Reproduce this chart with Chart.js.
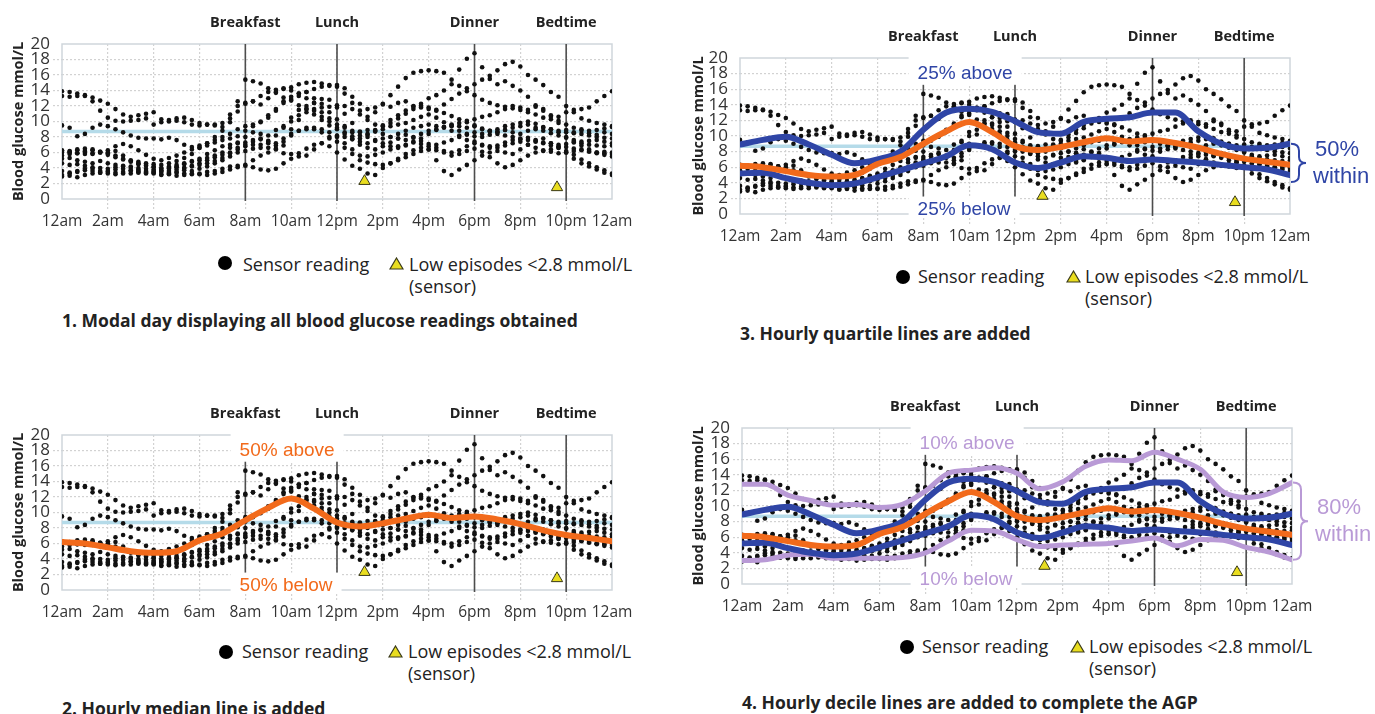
<!DOCTYPE html>
<html>
<head>
<meta charset="utf-8">
<script src="https://cdn.jsdelivr.net/npm/chart.js@4.4.1/dist/chart.umd.min.js"></script>
<style>
  body{margin:0;background:#fff;width:1375px;height:714px;overflow:hidden;position:relative;font-family:"Open Sans",sans-serif;color:#222}
  canvas{position:absolute}
  .t{position:absolute;white-space:nowrap;line-height:1;font-size:18px}
  .ttl{position:absolute;white-space:nowrap;line-height:1;font-size:17.5px;font-weight:bold}
  .dot{position:absolute;width:14px;height:14px;border-radius:50%;background:#000}
  .tri{position:absolute;width:15px;height:13px}
</style>
</head>
<body>
<canvas id="c1" width="660" height="240" style="left:0;top:0"></canvas>
<canvas id="c2" width="660" height="240" style="left:0;top:390px"></canvas>
<canvas id="c3" width="695" height="250" style="left:680px;top:0"></canvas>
<canvas id="c4" width="695" height="250" style="left:680px;top:380px"></canvas>

<!-- legends + captions -->
<div class="dot" style="left:218px;top:256px"></div>
<div class="t" style="left:243px;top:255px">Sensor reading</div>
<svg class="tri" style="left:389px;top:257px" viewBox="0 0 15 13"><polygon points="7.5,1 14,12 1,12" fill="#e9dd1f" stroke="#3a3a1a" stroke-width="1.2"/></svg>
<div class="t" style="left:409px;top:255px">Low episodes &lt;2.8 mmol/L</div>
<div class="t" style="left:409px;top:277px">(sensor)</div>
<div class="ttl" style="left:62px;top:312px">1. Modal day displaying all blood glucose readings obtained</div>

<div class="dot" style="left:219px;top:645px"></div>
<div class="t" style="left:242px;top:642px">Sensor reading</div>
<svg class="tri" style="left:388px;top:645px" viewBox="0 0 15 13"><polygon points="7.5,1 14,12 1,12" fill="#e9dd1f" stroke="#3a3a1a" stroke-width="1.2"/></svg>
<div class="t" style="left:408px;top:642px">Low episodes &lt;2.8 mmol/L</div>
<div class="t" style="left:408px;top:664px">(sensor)</div>
<div class="ttl" style="left:62px;top:700px">2. Hourly median line is added</div>

<div class="dot" style="left:896px;top:270px"></div>
<div class="t" style="left:918px;top:267px">Sensor reading</div>
<svg class="tri" style="left:1066px;top:270px" viewBox="0 0 15 13"><polygon points="7.5,1 14,12 1,12" fill="#e9dd1f" stroke="#3a3a1a" stroke-width="1.2"/></svg>
<div class="t" style="left:1085px;top:267px">Low episodes &lt;2.8 mmol/L</div>
<div class="t" style="left:1085px;top:289px">(sensor)</div>
<div class="ttl" style="left:740px;top:325px">3. Hourly quartile lines are added</div>

<div class="dot" style="left:900px;top:640px"></div>
<div class="t" style="left:922px;top:637px">Sensor reading</div>
<svg class="tri" style="left:1070px;top:640px" viewBox="0 0 15 13"><polygon points="7.5,1 14,12 1,12" fill="#e9dd1f" stroke="#3a3a1a" stroke-width="1.2"/></svg>
<div class="t" style="left:1089px;top:637px">Low episodes &lt;2.8 mmol/L</div>
<div class="t" style="left:1089px;top:659px">(sensor)</div>
<div class="ttl" style="left:742px;top:694px">4. Hourly decile lines are added to complete the AGP</div>

<script>
// axis text
const hourLabels = ['12am','2am','4am','6am','8am','10am','12pm','2pm','4pm','6pm','8pm','10pm','12am'];
const mealHours = [8, 12, 18, 22];
const mealNames = ['Breakfast', 'Lunch', 'Dinner', 'Bedtime'];
const targetLevel = 8.7;

// low episodes (sensor)
const lowHours = [13.2, 21.6];
const lowValues = [2.3, 1.5];

// hourly profile lines, mmol/L at 12am..12am
const hours = [0,1,2,3,4,5,6,7,8,9,10,11,12,13,14,15,16,17,18,19,20,21,22,23,24];
const median = [6.2,6.0,5.5,5.0,4.8,5.0,6.4,7.3,9.0,10.6,11.8,10.5,8.7,8.2,8.6,9.2,9.7,9.3,9.5,9.1,8.5,7.7,7.1,6.7,6.3];
const q75 = [8.9,9.5,9.9,8.9,7.6,6.5,7.0,8.0,10.8,13.0,13.5,13.1,11.9,10.5,10.3,11.8,12.2,12.4,13.0,13.0,10.6,9.0,8.4,8.5,9.0];
const q25 = [5.2,5.3,4.6,4.0,3.7,3.9,4.7,5.6,6.5,7.4,8.8,8.3,6.6,5.9,6.6,7.4,7.2,6.8,7.0,6.8,6.6,6.3,6.0,5.7,5.0];
const p90 = [12.8,12.8,11.4,10.7,10.1,10.2,9.8,10.2,11.9,14.2,14.6,14.9,14.2,12.2,13.1,15.1,15.9,15.8,16.9,16.0,14.7,11.8,11.1,11.6,13.0];
const p10 = [3.0,3.1,3.7,3.8,3.3,3.3,3.3,3.4,4.0,5.5,6.9,6.8,5.7,4.8,5.0,5.1,5.2,5.5,5.9,4.9,5.7,5.6,4.7,4.1,3.1];

// sensor readings, one list per day, every 20 min from 12am
const day1 = [13.9,13.8,13.6, 13.4,13.1,12.7, 12.3,11.6,10.9, 10.6,10.8,11.0, 11.2,10.3,10.2, 10.4,10.5,10.2, 9.8,9.6,9.6, 9.8,10.9,12.0, 12.4,12.6,12.2, 13.0,13.8,14.2, 14.4,14.8,15.0, 15.1,14.9,14.7, 14.5,13.6,12.4, 11.4,10.6,11.2, 12.3,13.4,14.5, 15.6,16.3,16.5, 16.6,16.5,16.3, 15.4,14.6,13.9, 13.4,12.8,12.4, 12.1,11.9,11.7, 11.5,11.2,10.9, 10.5,10.3,10.6, 11.2,11.5,11.6, 11.8,12.6,13.3, 13.9];
const day2 = [13.3,13.2,13.3, 13.3,12.6,11.4, 10.5,10.1,10.0, 10.1,10.2,10.4, 9.6,9.9,10.0, 10.1,9.9,9.6, 9.5,9.6,9.5, 9.3,9.9,11.3, 12.3,12.6,13.3, 13.8,14.1,14.3, 14.0,13.6,13.8, 14.2,14.5,14.6, 14.7,14.3,13.2, 12.3,11.6,11.8, 12.2,11.9,12.4, 12.6,12.0,12.3, 13.0,13.4,14.0, 14.8,16.7,18.1, 18.8,17.0,15.5, 14.8,15.2,14.6, 14.0,13.2,12.1, 11.6,10.8,10.1, 9.6,9.2,9.0, 8.8,8.9,9.1, 9.3];
const day3 = [9.5,9.2,8.1, 8.4,9.2,9.6, 9.4,9.0,8.6, 8.2,7.9,7.8, 7.8,7.7,7.9, 7.6,7.0,6.7, 6.9,7.2,7.6, 8.0,8.4,9.0, 9.4,9.6,9.9, 10.5,11.4,12.6, 13.2,13.6,13.8, 13.0,12.3,11.9, 11.8,12.0,11.6, 10.9,10.2,9.6, 9.4,9.8,10.4, 11.0,11.6,11.8, 11.6,11.4,12.2, 12.9,13.6,14.3, 14.8,15.4,15.9, 16.6,17.4,17.7, 17.1,16.0,15.4, 14.7,13.8,13.2, 12.0,11.2,10.4, 10.1,9.8,9.6, 9.4];
const day4 = [6.3,6.2,6.4, 6.5,6.3,6.0, 5.9,6.2,5.6, 5.0,4.8,4.6, 4.5,4.4,4.6, 4.9,5.3,5.8, 6.6,7.2,8.0, 8.8,10.4,12.6, 15.4,15.2,14.9, 14.3,13.7,13.1, 12.7,12.1,11.6, 10.9,10.2,9.5, 9.0,8.6,8.1, 7.8,8.3,8.9, 9.5,10.2,10.8, 11.4,11.9,12.0, 11.8,11.5,11.1, 10.7,10.3,9.9, 9.4,9.0,8.8, 8.7,8.9,8.6, 8.4,8.8,9.0, 9.2,9.0,8.8, 8.6,8.5,8.4, 8.2,8.0,7.9, 7.8];
const day5 = [6.0,6.1,5.9, 5.8,5.9,6.1, 6.0,5.6,5.2, 4.9,4.6,4.4, 4.2,4.0,4.2, 4.4,4.6,4.8, 5.0,5.3,5.6, 6.0,6.6,7.3, 8.0,8.6,8.4, 7.4,6.5,5.9, 5.8,5.5,5.6, 6.4,7.2,7.8, 8.2,8.0,7.7, 7.4,7.2,7.6, 7.8,8.0,8.4, 8.8,9.2,9.4, 9.6,9.4,9.2, 9.5,9.8,10.1, 10.3,10.6,10.8, 11.2,11.6,12.0, 11.8,11.5,11.9, 11.4,10.6,9.8, 8.9,8.6,8.8, 8.5,8.3,8.6, 8.4];
const day6 = [5.6,5.8,5.9, 6.1,5.8,6.0, 6.3,6.8,7.1, 6.8,6.3,5.7, 5.2,5.0,5.3, 5.6,6.0,6.4, 6.6,6.9,7.3, 7.6,7.8,8.1, 8.8,9.4,10.0, 10.8,11.6,12.4, 12.9,13.3,13.0, 12.4,11.8,11.2, 10.3,9.4,8.8, 8.6,8.9,8.7, 8.4,8.0,7.8, 7.6,7.9,8.4, 8.8,9.0,9.3, 9.6,9.4,9.2, 9.5,9.1,8.8, 8.4,8.2,8.0, 7.8,7.6,7.4, 7.3,7.2,7.0, 7.1,7.3,7.2, 7.0,6.9,6.8, 6.9];
const day7 = [6.2,6.0,6.3, 6.2,6.4,6.1, 5.7,5.4,5.1, 4.8,4.5,4.3, 4.1,3.9,4.0, 4.2,4.5,4.9, 5.2,5.8,6.3, 6.8,7.0,7.2, 7.3,7.6,7.7, 7.2,6.9,7.4, 9.0,10.2,11.2, 11.6,11.2,10.4, 9.2,8.4,7.8, 7.0,6.6,6.4, 6.8,7.3,7.8, 8.3,8.0,7.5, 7.1,6.6,6.2, 6.0,6.3,6.8, 7.4,7.0,6.8, 6.6,6.9,7.2, 7.4,7.0,6.6, 6.2,6.4,6.8, 6.7,6.5,6.3, 6.2,6.0,5.9, 5.8];
const day8 = [5.2,5.3,5.0, 4.8,4.6,4.9, 4.6,4.4,4.3, 4.2,4.0,3.9, 3.8,3.7,3.9, 4.1,4.0,4.3, 4.6,5.0,5.4, 5.7,6.0,6.4, 6.8,7.0,6.6, 6.6,7.2,7.8, 8.4,8.8,9.2, 9.0,8.6,8.0, 7.4,6.6,5.8, 5.0,4.7,4.5, 4.4,4.6,5.0, 5.4,5.8,6.2, 6.4,6.3,6.0, 5.6,5.8,6.2, 6.5,6.1,5.4, 4.6,4.1,4.4, 5.0,5.6,6.0, 6.3,6.1,5.9, 6.0,6.2,6.4, 6.1,5.9,6.1, 6.0];
const day9 = [4.6,4.4,4.5, 4.3,4.1,4.0, 3.9,4.1,4.2, 4.0,3.8,3.6, 3.5,3.6,3.4, 3.5,3.7,3.6, 3.9,4.2,4.6, 5.0,5.5,6.0, 6.2,6.5,7.0, 7.5,8.2,9.2, 10.5,11.5,12.0, 11.4,10.6,10.0, 9.6,9.2,8.6, 8.2,8.4,8.8, 9.0,9.4,9.6, 9.8,10.2,10.6, 10.9,10.5,9.9, 9.4,8.8,8.4, 8.1,8.0,8.3, 8.6,8.9,9.2, 9.4,9.6,9.2, 8.8,8.5,8.2, 7.9,7.6,7.4, 7.5,7.6,7.4, 7.2];
const day10 = [3.6,3.4,3.5, 3.7,3.9,3.6, 3.5,3.4,3.5, 3.6,3.4,3.3, 3.4,3.2,3.3, 3.4,3.3,3.2, 3.3,3.5,3.6, 3.9,4.2,4.3, 4.3,4.1,3.8, 3.7,3.9,4.6, 5.2,5.9,6.5, 7.0,7.2,6.8, 6.0,5.1,4.3, 3.9,3.3,3.1, 4.0,4.6,5.2, 5.8,6.3,6.6, 6.8,7.0,7.3, 7.6,8.0,8.3, 8.6,8.4,8.7, 9.0,9.4,9.6, 9.8,10.0,9.7, 9.3,9.0,8.6, 8.0,7.4,6.9, 6.4,6.0,5.7, 5.5];
const day11 = [2.9,3.0,2.8, 3.1,3.3,3.4, 3.3,3.2,3.3, 3.3,3.5,3.4, 3.3,3.1,3.2, 3.0,3.1,3.3, 3.2,3.1,3.3, 3.5,3.8,4.1, 4.4,5.0,5.6, 6.0,6.4,6.9, 8.2,8.8,9.0, 9.2,9.0,8.6, 8.0,7.2,6.4, 5.6,5.5,5.7, 6.0,6.4,6.8, 7.0,7.4,7.1, 6.4,5.0,3.6, 3.1,3.8,4.4, 5.0,5.6,6.0, 6.2,6.0,5.8, 6.4,7.0,7.6, 7.8,7.2,6.6, 6.0,5.2,4.6, 4.2,3.8,3.4, 3.1];
const day12 = [3.1,3.3,3.6, 3.9,3.6,3.4, 3.6,3.8,3.9, 3.7,3.6,3.5, 3.6,3.5,3.6, 3.8,4.0,4.2, 4.4,4.6,4.9, 5.3,5.9,6.6, 7.0,7.4,7.8, 8.2,8.9,9.4, 10.0,10.8,11.6, 12.4,12.9,12.8, 12.1,11.0,9.8, 8.7,8.0,7.5, 7.2,6.8,6.6, 6.9,7.3,7.8, 8.4,8.9,9.3, 8.8,8.2,7.6, 7.2,6.9,6.6, 6.9,7.3,7.6, 7.7,7.9,7.5, 7.2,6.9,6.6, 6.2,5.7,5.1, 4.6,4.1,3.7, 3.3];
const days = [day1, day2, day3, day4, day5, day6, day7, day8, day9, day10, day11, day12];
const sampleStep = 1 / 3; // hours between readings

const ORANGE = '#f26a1b', BLUE = '#2f45a6', LILAC = '#b99ad6';
const GRID = '#d2d2d2';

const sensorPoints = days.flatMap(d => d.map((v, i) => ({x: i * sampleStep, y: v})));
const lowPoints = lowHours.map((h, i) => ({x: h, y: lowValues[i]}));
const toXY = arr => arr.map((v, i) => ({x: hours[i], y: v}));

function profileLine(arr, color, width, order) {
  return {data: toXY(arr), showLine: true, borderColor: color, borderWidth: width, pointRadius: 0,
    tension: 0.4, cubicInterpolationMode: 'monotone', borderCapStyle: 'round', borderJoinStyle: 'round', order: order};
}

function panelPlugin(p) {
  return {
    id: 'panel',
    beforeDatasetsDraw(chart) {
      const {ctx, chartArea: a, scales: {x}} = chart;
      ctx.save();
      ctx.strokeStyle = '#cfd6db'; ctx.lineWidth = 1.5;
      ctx.strokeRect(a.left, a.top, a.width, a.height);
      ctx.strokeStyle = '#4d4d4d'; ctx.lineWidth = 1.6;
      mealHours.forEach(h => {
        const px = x.getPixelForValue(h);
        ctx.beginPath(); ctx.moveTo(px, a.top); ctx.lineTo(px, a.bottom + 2); ctx.stroke();
      });
      ctx.fillStyle = '#222'; ctx.font = 'bold 14.5px "Open Sans"';
      ctx.textAlign = 'center'; ctx.textBaseline = 'middle';
      mealNames.forEach((n, i) => ctx.fillText(n, x.getPixelForValue(mealHours[i]), a.top - 21));
      ctx.restore();
    },
    afterDatasetsDraw(chart) {
      if (!p.tags) return;
      const {ctx, chartArea: a, scales: {x, y}} = chart;
      ctx.save();
      ctx.font = '19px "Liberation Sans", Arial, sans-serif';
      ctx.textAlign = 'left'; ctx.textBaseline = 'middle';
      const px = x.getPixelForValue(7.75);
      [[p.tags[0], 18.1, true], [p.tags[1], 0.7, false]].forEach(([txt, v, top]) => {
        const py = y.getPixelForValue(v), w = ctx.measureText(txt).width;
        ctx.fillStyle = '#fff';
        if (top) ctx.fillRect(px - 9, a.top - 2, w + 18, py + 12 - (a.top - 2));
        else ctx.fillRect(px - 9, py - 12, w + 18, a.bottom + 2 - (py - 12));
        ctx.fillStyle = p.color;
        ctx.fillText(txt, px, py + 1);
      });
      ctx.restore();
    },
    afterDraw(chart) {
      if (!p.brace) return;
      const {ctx, chartArea: a, scales: {y}} = chart;
      const b = p.brace;
      const y1 = y.getPixelForValue(b.from), y2 = y.getPixelForValue(b.to), ym = (y1 + y2) / 2, x0 = a.right + 1;
      ctx.save();
      ctx.strokeStyle = p.color; ctx.lineWidth = 2;
      ctx.beginPath();
      ctx.moveTo(x0, y1);
      ctx.quadraticCurveTo(x0 + 8, y1, x0 + 8, y1 + 7);
      ctx.lineTo(x0 + 8, ym - 6);
      ctx.quadraticCurveTo(x0 + 8, ym, x0 + 15, ym);
      ctx.quadraticCurveTo(x0 + 8, ym, x0 + 8, ym + 6);
      ctx.lineTo(x0 + 8, y2 - 7);
      ctx.quadraticCurveTo(x0 + 8, y2, x0, y2);
      ctx.stroke();
      ctx.fillStyle = p.color;
      ctx.font = '22px "Liberation Sans", Arial, sans-serif';
      ctx.textAlign = 'left'; ctx.textBaseline = 'middle';
      ctx.fillText(b.text[0], a.right + 25, ym - 13);
      ctx.fillText(b.text[1], a.right + 23, ym + 14);
      ctx.restore();
    }
  };
}

function makePanel(id, p) {
  const datasets = [
    {data: [{x: 0, y: targetLevel}, {x: 24, y: targetLevel}], showLine: true, borderColor: '#b5dbe9', borderWidth: 3.5, pointRadius: 0, order: 9},
    {data: sensorPoints, pointRadius: 2.3, pointBackgroundColor: '#111', pointBorderWidth: 0, order: 6},
    {data: lowPoints, pointStyle: 'triangle', pointRadius: 6.5, pointBackgroundColor: '#e9dd1f', pointBorderColor: '#3a3a1a', pointBorderWidth: 1, order: 5}
  ];
  if (p.deciles) { datasets.push(profileLine(p90, LILAC, 5, 4), profileLine(p10, LILAC, 5, 4)); }
  if (p.quartiles) { datasets.push(profileLine(q75, BLUE, 6, 3), profileLine(q25, BLUE, 6, 3)); }
  if (p.median) { datasets.push(profileLine(median, ORANGE, 6, 2)); }

  new Chart(document.getElementById(id), {
    type: 'scatter',
    data: {datasets},
    options: {
      responsive: false, animation: false, devicePixelRatio: 1,
      layout: {padding: {left: 0, top: p.top, right: p.right, bottom: 0}},
      plugins: {legend: {display: false}, tooltip: {enabled: false}},
      scales: {
        x: {
          type: 'linear', min: 0, max: 24,
          ticks: {stepSize: 2, autoSkip: false, maxRotation: 0, padding: 3, color: '#333',
            font: {family: '"Open Sans"', size: 15.5}, callback: v => hourLabels[v / 2]},
          grid: {color: c => (c.tick && c.tick.value % 24 === 0) ? 'rgba(0,0,0,0)' : GRID, tickLength: 10, lineWidth: 1.2, tickBorderDash: [2, 2]},
          border: {display: false, dash: [2, 2]},
          afterFit: s => { s.height = p.xh; }
        },
        y: {
          min: 0, max: 20,
          ticks: {stepSize: 2, autoSkip: false, padding: 3, color: '#333', font: {family: '"Open Sans"', size: 17, lineHeight: 1}},
          grid: {color: c => (c.tick && c.tick.value % 20 === 0) ? 'rgba(0,0,0,0)' : GRID, tickLength: 9, lineWidth: 1.2, tickBorderDash: [2, 2]},
          border: {display: false, dash: [2, 2]},
          title: {display: true, text: 'Blood glucose mmol/L', color: '#222', padding: {top: 10, bottom: 0},
            font: {family: '"Open Sans"', size: 14.5, weight: 'bold'}},
          afterFit: s => { s.width = p.yw; }
        }
      }
    },
    plugins: [panelPlugin(p)]
  });
}

makePanel('c1', {top: 44, right: 48, xh: 41, yw: 62});
makePanel('c2', {top: 45, right: 48, xh: 40, yw: 62, median: true,
  tags: ['50% above', '50% below'], color: ORANGE});
makePanel('c3', {top: 58, right: 85, xh: 36, yw: 60, median: true, quartiles: true,
  tags: ['25% above', '25% below'], color: BLUE, brace: {from: 9.0, to: 4.1, text: ['50%', 'within']}});
makePanel('c4', {top: 48, right: 83, xh: 46, yw: 62, median: true, quartiles: true, deciles: true,
  tags: ['10% above', '10% below'], color: LILAC, brace: {from: 13.0, to: 3.1, text: ['80%', 'within']}});
</script>
</body>
</html>
